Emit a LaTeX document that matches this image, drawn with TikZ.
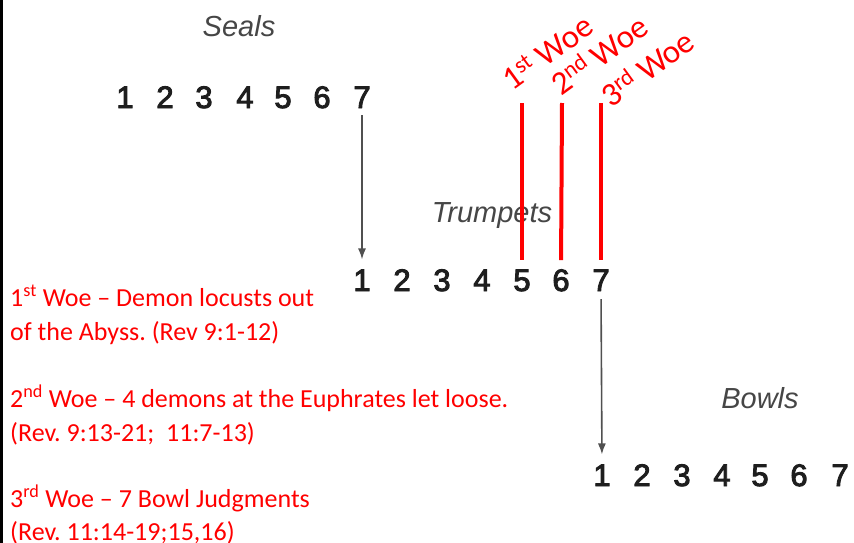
\documentclass[tikz,border=0pt]{standalone}
\usepackage{fontspec}
\setmainfont{Carlito}
\newfontfamily\digfont[FakeBold=3]{Liberation Sans}
\newfontfamily\labfont{Liberation Sans}
\usetikzlibrary{arrows.meta}
\frenchspacing
\definecolor{woered}{RGB}{255,0,0}
\definecolor{diggray}{RGB}{30,30,30}
\definecolor{labgray}{RGB}{70,70,70}
\definecolor{arrgray}{RGB}{80,80,80}
\tikzset{
  digit/.style={anchor=base, inner sep=0pt, text=diggray, font=\digfont\fontsize{31}{31}\selectfont},
  grouplab/.style={anchor=base, inner sep=0pt, text=labgray, font=\labfont\itshape\fontsize{29}{29}\selectfont},
  redline/.style={anchor=base west, inner sep=0pt, text=woered, font=\fontsize{26}{26}\selectfont},
  woelab/.style={anchor=base west, inner sep=0pt, text=woered, font=\fontsize{33}{33}\selectfont, rotate=36},
  woebar/.style={draw=woered, line width=4pt},
  seqarrow/.style={draw=arrgray, line width=1.6pt, -{Latex[length=11pt,width=8pt]}}
}
\begin{document}
\begin{tikzpicture}[x=1pt,y=-1pt]
\useasboundingbox (0,0) rectangle (854,543);
\fill[white] (0,0) rectangle (854,543);
\fill[black] (0,0) rectangle (2.5,543);
% group labels
\node[grouplab] (seals) at (239,37) {Seals};
\node[grouplab] (trumpets) at (492,222) {Trumpets};
\node[grouplab] (bowls) at (760,408) {Bowls};
% digits
\foreach \n/\x in {1/125,2/165,3/204,4/245,5/283,6/322,7/362}
  \node[digit] (s\n) at (\x,108) {\n};
\foreach \n/\x in {1/362,2/402,3/442,4/482,5/522,6/561,7/601}
  \node[digit] (t\n) at (\x,291) {\n};
\foreach \n/\x in {1/602,2/642,3/682,4/722,5/760,6/799,7/840}
  \node[digit] (b\n) at (\x,486) {\n};
% arrows
\draw[seqarrow, shorten <=7pt, shorten >=10pt] (s7.south) -- (t1.north);
\draw[seqarrow, shorten <=8pt, shorten >=10pt] (t7.south) -- (b1.north);
% woe labels
\node[woelab] (w1) at (512,92) {1\textsuperscript{st} Woe};
\node[woelab] (w2) at (561,97) {2\textsuperscript{nd} Woe};
\node[woelab] (w3) at (611,109) {3\textsuperscript{rd} Woe};
\coordinate (w1top) at (522,103);
\coordinate (w2top) at (562,103);
\coordinate (w3top) at (601,103);
\draw[woebar, shorten >=9pt] (w1top) -- (t5.north);
\draw[woebar, shorten >=9pt] (w2top) -- (t6.north);
\draw[woebar, shorten >=9pt] (w3top) -- (t7.north);
% explanation text
\node[redline] (l1) at (10,306) {1\textsuperscript{st} Woe -- Demon locusts out};
\node[redline] (l2) at (10,340) {of the Abyss. (Rev 9:1-12)};
\node[redline] (l3) at (10,407) {2\textsuperscript{nd} Woe -- 4 demons at the Euphrates let loose.};
\node[redline] (l4) at (10,441) {(Rev. 9:13-21;\ \ 11:7-13)};
\node[redline] (l5) at (10,507) {3\textsuperscript{rd} Woe -- 7 Bowl Judgments};
\node[redline] (l6) at (10,540) {(Rev. 11:14-19;15,16)};
\end{tikzpicture}
\end{document}
